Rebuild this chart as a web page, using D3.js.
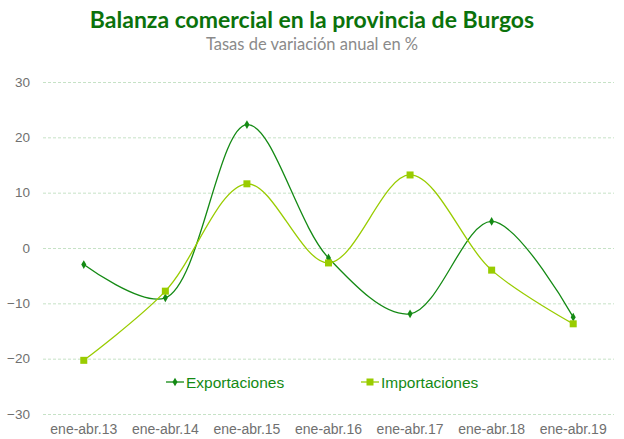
<!DOCTYPE html>
<html><head><meta charset="utf-8">
<script src="https://cdn.jsdelivr.net/npm/d3@7"></script>
<style>body{margin:0;background:#fff}svg{display:block}</style>
</head><body><svg id="c" width="624" height="439"></svg>
<script>
const categories = ["ene-abr.13","ene-abr.14","ene-abr.15","ene-abr.16","ene-abr.17","ene-abr.18","ene-abr.19"];
const exportaciones = [-3.0, -9.0, 22.3, -1.8, -11.9, 4.8, -12.5];
const importaciones = [-20.3, -7.8, 11.6, -2.7, 13.2, -4.0, -13.7];
const yTicks = [-30, -20, -10, 0, 10, 20, 30];
const seriesNames = ["Exportaciones", "Importaciones"];
const seriesColors = ["#148a14", "#99cc00"];

(function(){
const svg = d3.select("#c");
const mLeft = 43, mRight = 614, mTop = 82, mBottom = 414;
const x = d3.scaleBand().domain(categories).range([mLeft, mRight]);
const y = d3.scaleLinear().domain([-30, 30]).range([mBottom, mTop]);

svg.append("text").attr("x", 312).attr("y", 28).attr("text-anchor", "middle")
  .attr("font-family", "Lato, 'Open Sans', sans-serif").attr("font-weight", "bold")
  .attr("font-size", 23).attr("fill", "#0b720b").text("Balanza comercial en la provincia de Burgos");
svg.append("text").attr("x", 312).attr("y", 50).attr("text-anchor", "middle")
  .attr("font-family", "Lato, 'Open Sans', sans-serif")
  .attr("font-size", 16.5).attr("fill", "#8a8a8a").text("Tasas de variación anual en %");

const yAxis = d3.axisLeft(y).tickValues(yTicks).tickSize(-(mRight - mLeft)).tickPadding(13);
const gy = svg.append("g").attr("transform", `translate(${mLeft},0)`).call(yAxis);
gy.select(".domain").remove();
gy.selectAll(".tick line").attr("stroke", "#c6e2c6").attr("stroke-dasharray", "3,2");
gy.selectAll(".tick text").style("font-family", "'Liberation Sans', Arial, sans-serif")
  .style("font-size", "13.5px").attr("fill", "#707070");

const xAxis = d3.axisBottom(x).tickSize(0).tickPadding(10);
const gx = svg.append("g").attr("transform", `translate(0,${mBottom})`).call(xAxis);
gx.select(".domain").remove();
gx.selectAll(".tick text").style("font-family", "'Liberation Sans', Arial, sans-serif")
  .style("font-size", "14px").attr("fill", "#707070");

const cx = d => x(d) + x.bandwidth() / 2;
const line = d3.line().curve(d3.curveCatmullRom.alpha(0.5))
  .x((d, i) => cx(categories[i])).y(d => y(d));

[exportaciones, importaciones].forEach((data, s) => {
  svg.append("path").datum(data).attr("d", line).attr("fill", "none")
    .attr("stroke", seriesColors[s]).attr("stroke-width", 1.3);
  const g = svg.append("g");
  data.forEach((v, i) => {
    if (s === 0) {
      g.append("path").attr("d", d3.symbol(d3.symbolDiamond, 22)())
        .attr("transform", `translate(${cx(categories[i])},${y(v)})`).attr("fill", seriesColors[s]);
    } else {
      g.append("rect").attr("x", cx(categories[i]) - 3.5).attr("y", y(v) - 3.5)
        .attr("width", 7).attr("height", 7).attr("fill", seriesColors[s]);
    }
  });
});

const legX = [166, 361];
seriesNames.forEach((n, s) => {
  const g = svg.append("g").attr("transform", `translate(${legX[s]},382)`);
  g.append("line").attr("x1", 0).attr("x2", 18).attr("stroke", seriesColors[s]).attr("stroke-width", 1.3);
  if (s === 0) g.append("path").attr("d", d3.symbol(d3.symbolDiamond, 22)()).attr("transform", "translate(9,0)").attr("fill", seriesColors[s]);
  else g.append("rect").attr("x", 5.5).attr("y", -3.5).attr("width", 7).attr("height", 7).attr("fill", seriesColors[s]);
  g.append("text").attr("x", 20).attr("y", 5.5).style("font-family", "'Liberation Sans', Arial, sans-serif")
    .style("font-size", "15.5px").attr("fill", "#148a14").text(n);
});
})();
</script></body></html>
